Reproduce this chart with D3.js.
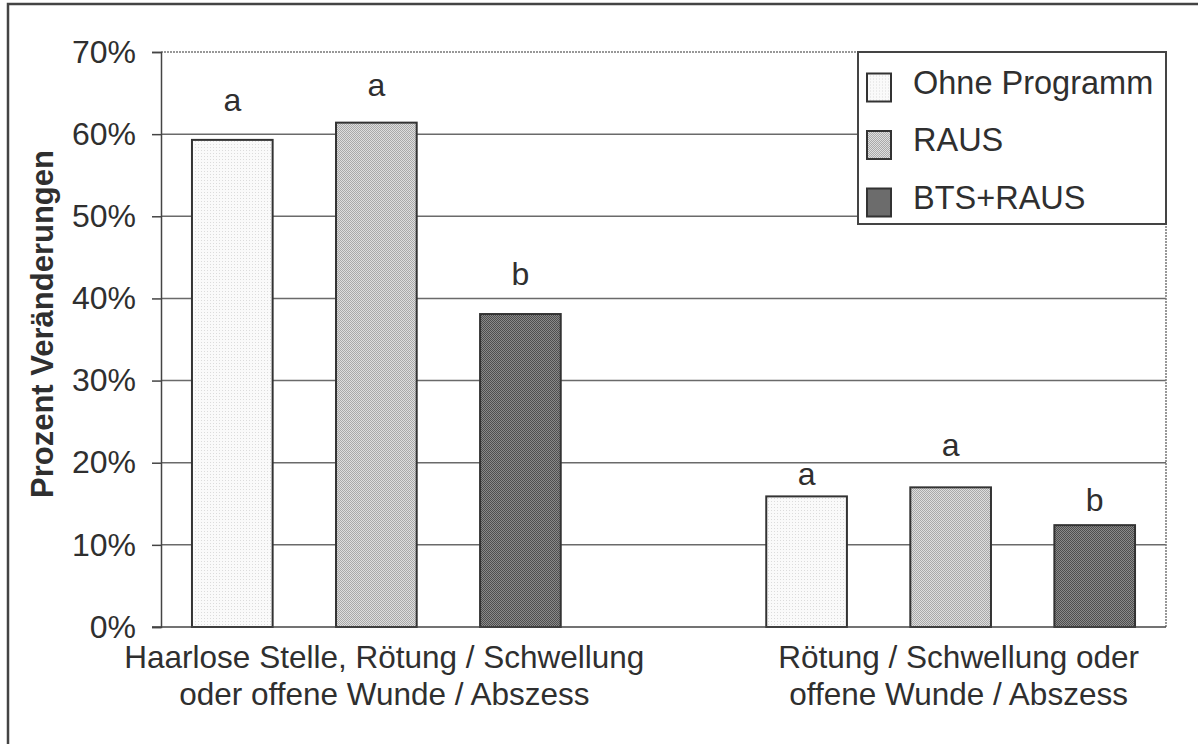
<!DOCTYPE html>
<html>
<head>
<meta charset="utf-8">
<script src="https://cdn.jsdelivr.net/npm/d3@7"></script>
<style>
  html, body { margin: 0; padding: 0; background: #fff; }
  svg { display: block; font-family: Arial, "Liberation Sans", Helvetica, sans-serif; }
</style>
</head>
<body>
<svg id="chart" width="1198" height="744"></svg>
<script>
// Categories (x axis, two-line labels)
const categories = [
  ["Haarlose Stelle, Rötung / Schwellung", "oder offene Wunde / Abszess"],
  ["Rötung / Schwellung oder", "offene Wunde / Abszess"]
];
const categoryKeys = ["haarlos", "roetung"];

// Series
const seriesNames = ["Ohne Programm", "RAUS", "BTS+RAUS"];
const ohneProgramm = [59.3, 15.9];
const raus = [61.4, 17.0];
const btsRaus = [38.1, 12.4];

// Significance letters and the level (in %) where each one sits
const letters = [["a", "a", "b"], ["a", "a", "b"]];
const letterLevel = [[62.8, 64.6, 41.6], [17.3, 20.8, 14.1]];

// Y ticks
const yTicks = [0, 10, 20, 30, 40, 50, 60, 70];
const yTitle = "Prozent Veränderungen";

const values = [ohneProgramm, raus, btsRaus];

const svg = d3.select("#chart");
const textColor = "#2f2f2f";

// Outer frame
svg.append("rect")
  .attr("x", 8).attr("y", 4).attr("width", 1210).attr("height", 760)
  .attr("fill", "none").attr("stroke", "#444").attr("stroke-width", 2.5);

const plot = { left: 161, right: 1166, top: 52, bottom: 627 };

const y = d3.scaleLinear().domain([0, 70]).range([plot.bottom, plot.top]);
const x0 = d3.scaleBand().domain(categoryKeys).range([plot.left, plot.right])
  .paddingInner(0.25).paddingOuter(0);
const x1 = d3.scaleBand().domain(seriesNames).range([0, x0.bandwidth()])
  .paddingInner(0.44).paddingOuter(0.215);

// Fill patterns for the bars
const defs = svg.append("defs");
function checker(id, a, b) {
  const p = defs.append("pattern").attr("id", id).attr("patternUnits", "userSpaceOnUse")
    .attr("width", 2).attr("height", 2);
  p.append("rect").attr("width", 2).attr("height", 2).attr("fill", a);
  p.append("rect").attr("width", 1).attr("height", 1).attr("fill", b);
  p.append("rect").attr("x", 1).attr("y", 1).attr("width", 1).attr("height", 1).attr("fill", b);
}
(function () {
  const p = defs.append("pattern").attr("id", "pat0").attr("patternUnits", "userSpaceOnUse")
    .attr("width", 3).attr("height", 3);
  p.append("rect").attr("width", 3).attr("height", 3).attr("fill", "#fafafa");
  p.append("rect").attr("width", 1).attr("height", 1).attr("fill", "#dcdcdc");
})();
checker("pat1", "#dedede", "#a9a9a9");
checker("pat2", "#8a8a8a", "#4e4e4e");
const fillFor = d3.scaleOrdinal().domain(seriesNames).range(["url(#pat0)", "url(#pat1)", "url(#pat2)"]);

// Gridlines
svg.append("g")
  .selectAll("line").data(yTicks.filter(t => t > 0 && t < 70)).join("line")
  .attr("x1", plot.left).attr("x2", plot.right)
  .attr("y1", d => y(d)).attr("y2", d => y(d))
  .attr("stroke", "#6a6a6a").attr("stroke-width", 1.5);

// Plot area border (dotted top / right)
svg.append("path")
  .attr("d", `M${plot.left},${plot.top}H${plot.right}V${plot.bottom}`)
  .attr("fill", "none").attr("stroke", "#777").attr("stroke-width", 1.5)
  .attr("stroke-dasharray", "2,1");

// Y axis
const yAxis = d3.axisLeft(y).tickValues(yTicks).tickFormat(d => d + "%")
  .tickSize(9).tickPadding(16);
const gy = svg.append("g").attr("transform", `translate(${plot.left},0)`).call(yAxis);
gy.select(".domain").attr("stroke", "#444").attr("stroke-width", 1.5);
gy.selectAll(".tick line").attr("stroke", "#444").attr("stroke-width", 1.5);
gy.selectAll(".tick text").attr("fill", textColor)
  .style("font-size", "32px").style("font-family", "Arial, 'Liberation Sans', sans-serif");

// Y title
svg.append("text")
  .attr("transform", `translate(53,324) rotate(-90)`)
  .attr("text-anchor", "middle")
  .attr("fill", textColor).style("font-size", "31px").style("font-weight", "bold")
  .text(yTitle);

// Bars
const rows = [];
categoryKeys.forEach((c, ci) => {
  seriesNames.forEach((s, si) => {
    rows.push({ c, ci, s, si, v: values[si][ci], letter: letters[ci][si], level: letterLevel[ci][si] });
  });
});

const bars = svg.append("g");
bars.selectAll("rect").data(rows).join("rect")
  .attr("x", d => x0(d.c) + x1(d.s))
  .attr("y", d => y(d.v))
  .attr("width", x1.bandwidth())
  .attr("height", d => y(0) - y(d.v))
  .attr("fill", d => fillFor(d.s))
  .attr("stroke", "#333").attr("stroke-width", 2);

// Baseline (x axis)
svg.append("line")
  .attr("x1", plot.left - 9).attr("x2", plot.right)
  .attr("y1", y(0)).attr("y2", y(0))
  .attr("stroke", "#444").attr("stroke-width", 1.5);

// Significance letters
svg.append("g").selectAll("text").data(rows).join("text")
  .attr("x", d => x0(d.c) + x1(d.s) + x1.bandwidth() / 2)
  .attr("y", d => y(d.level))
  .attr("text-anchor", "middle").attr("fill", textColor)
  .style("font-size", "32px")
  .text(d => d.letter);

// Category labels
const cat = svg.append("g").selectAll("text").data(categoryKeys).join("text")
  .attr("text-anchor", "middle").attr("fill", textColor).style("font-size", "31.5px");
cat.each(function (k, i) {
  const cx = x0(k) + x0.bandwidth() / 2 + 8;
  categories[i].forEach((line, li) => {
    d3.select(this).append("tspan").attr("x", cx).attr("y", 668 + li * 37).text(line);
  });
});

// Legend
const legend = svg.append("g");
legend.append("rect")
  .attr("x", 858).attr("y", 52).attr("width", 308).attr("height", 172)
  .attr("fill", "#fff").attr("stroke", "#444").attr("stroke-width", 2);
const li = legend.selectAll("g").data(seriesNames).join("g")
  .attr("transform", (d, i) => `translate(0,${87.5 + i * 57.5})`);
li.append("rect")
  .attr("x", 867).attr("y", -14).attr("width", 24).attr("height", 28)
  .attr("fill", d => fillFor(d)).attr("stroke", "#333").attr("stroke-width", 2);
li.append("text")
  .attr("x", 913).attr("y", 6).attr("fill", textColor).style("font-size", "32.5px")
  .text(d => d);
</script>
</body>
</html>
